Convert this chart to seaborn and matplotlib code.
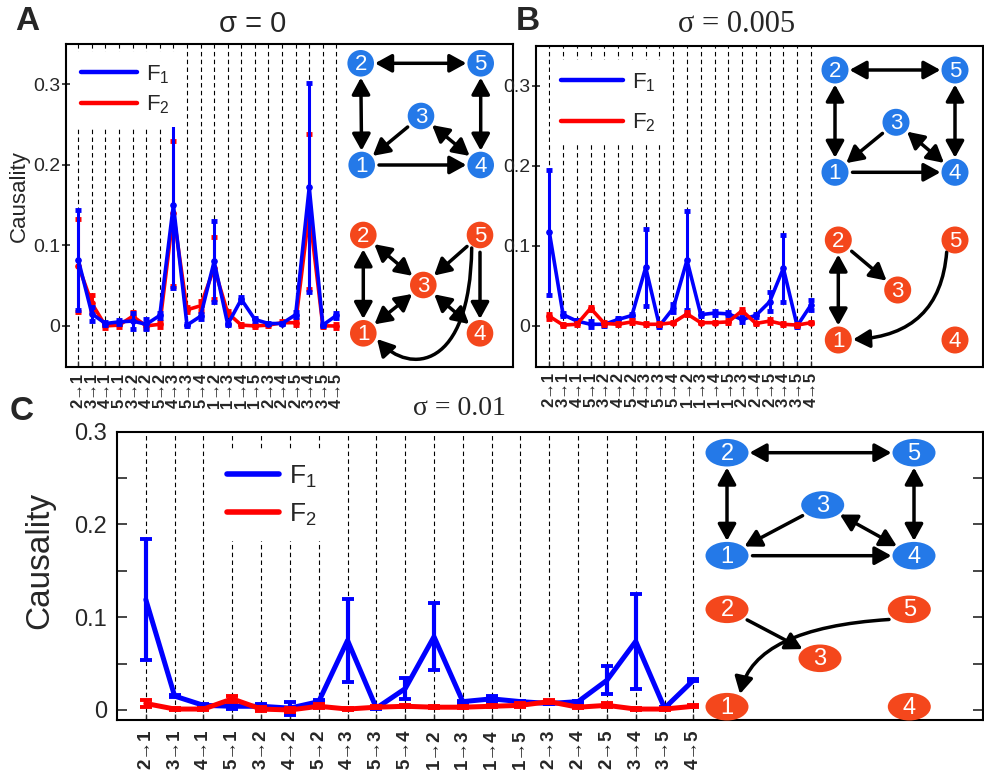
import numpy as np
import pandas as pd
import matplotlib
matplotlib.use("Agg")
import matplotlib.pyplot as plt
import seaborn as sns
from matplotlib.patches import Ellipse, FancyArrowPatch
from matplotlib.path import Path
from matplotlib.lines import Line2D

# ---------------- data ----------------
edges = ["2→1", "3→1", "4→1", "5→1", "3→2", "4→2", "5→2", "4→3", "5→3", "5→4",
         "1→2", "1→3", "1→4", "1→5", "2→3", "2→4", "2→5", "3→4", "3→5", "4→5"]

a_f1 = [0.082, 0.015, 0.003, 0.005, 0.006, 0.002, 0.013, 0.150, 0.001, 0.012,
        0.080, 0.002, 0.033, 0.008, 0.003, 0.003, 0.014, 0.172, 0.001, 0.013]
a_f1_err = [0.062, 0.009, 0.002, 0.002, 0.010, 0.006, 0.003, 0.103, 0.001, 0.003,
            0.050, 0.001, 0.003, 0.002, 0.001, 0.001, 0.003, 0.130, 0.001, 0.003]
a_f2 = [0.075, 0.028, 0.000, 0.001, 0.012, 0.000, 0.002, 0.140, 0.020, 0.025,
        0.072, 0.016, 0.001, 0.000, 0.001, 0.004, 0.004, 0.142, 0.000, 0.000]
a_f2_err = [0.058, 0.010, 0.002, 0.002, 0.005, 0.002, 0.003, 0.090, 0.003, 0.006,
            0.038, 0.003, 0.001, 0.001, 0.001, 0.002, 0.003, 0.096, 0.001, 0.002]

b_f1 = [0.117, 0.014, 0.006, 0.002, 0.002, 0.008, 0.013, 0.073, 0.000, 0.022,
        0.082, 0.014, 0.016, 0.015, 0.008, 0.013, 0.030, 0.072, 0.000, 0.026]
b_f1_err = [0.078, 0.002, 0.001, 0.004, 0.002, 0.002, 0.002, 0.048, 0.001, 0.005,
            0.062, 0.002, 0.002, 0.002, 0.003, 0.002, 0.012, 0.042, 0.001, 0.006]
b_f2 = [0.012, 0.001, 0.002, 0.022, 0.003, 0.002, 0.005, 0.002, 0.002, 0.004,
        0.015, 0.004, 0.004, 0.005, 0.019, 0.003, 0.006, 0.002, 0.001, 0.004]
b_f2_err = [0.003, 0.001, 0.001, 0.002, 0.002, 0.001, 0.002, 0.001, 0.001, 0.001,
            0.002, 0.001, 0.001, 0.002, 0.002, 0.001, 0.002, 0.001, 0.001, 0.001]

c_f1 = [0.119, 0.015, 0.005, 0.004, 0.004, 0.002, 0.009, 0.075, 0.002, 0.023,
        0.079, 0.009, 0.012, 0.009, 0.007, 0.009, 0.032, 0.074, 0.002, 0.032]
c_f1_err = [0.065, 0.001, 0.001, 0.003, 0.002, 0.007, 0.002, 0.045, 0.001, 0.011,
            0.036, 0.001, 0.003, 0.001, 0.001, 0.001, 0.015, 0.051, 0.001, 0.001]
c_f2 = [0.007, 0.001, 0.001, 0.012, 0.001, 0.000, 0.004, 0.001, 0.003, 0.004,
        0.003, 0.003, 0.004, 0.005, 0.009, 0.003, 0.005, 0.001, 0.001, 0.004]
c_f2_err = [0.004, 0.001, 0.001, 0.003, 0.002, 0.002, 0.002, 0.001, 0.001, 0.001,
            0.001, 0.001, 0.001, 0.002, 0.002, 0.001, 0.002, 0.001, 0.001, 0.001]

titles = ["σ = 0", "σ = 0.005", "σ = 0.01"]
series_labels = ["F$_\\mathregular{1}$", "F$_\\mathregular{2}$"]

# network edges: (from, to, bidirectional)
net_true = [(2, 5, True), (2, 1, True), (5, 4, True), (3, 1, False), (3, 4, True), (1, 4, False)]
net_a_red = [(2, 1, True), (2, 3, True), (5, 3, False), (5, 4, False), (3, 1, True), (3, 4, True)]
net_b_red = [(2, 1, True), (2, 3, False)]
net_c_red = [(2, 3, False)]

# ---------------- style ----------------
sns.set_style("ticks")
plt.rcParams["font.family"] = ["Liberation Sans", "DejaVu Sans"]
plt.rcParams["mathtext.fontset"] = "custom"
plt.rcParams["mathtext.rm"] = "Liberation Sans"
plt.rcParams["mathtext.it"] = "Liberation Sans:italic"

BLUE = "#0000ff"
RED = "#ff0000"
NODE_BLUE = "#2479e8"
NODE_RED = "#f4471c"

W, H = 984, 779
fig = plt.figure(figsize=(W / 100, H / 100), dpi=100)


def px_axes(l, t, r, b, **kw):
    return fig.add_axes([l / W, 1 - b / H, (r - l) / W, (b - t) / H], **kw)


def draw_panel(ax, f1, f1e, f2, f2e, lw, elw, capsize, capthick, ms, red_top):
    n = len(edges)
    x = np.arange(n)
    for xi in x:
        ax.axvline(xi, color="black", lw=0.8, dashes=(4, 3), zorder=0)
    df = pd.DataFrame({"pos": np.concatenate([x, x]),
                       "val": np.concatenate([f1, f2]),
                       "series": ["F1"] * n + ["F2"] * n})
    zb, zr = (3, 4) if red_top else (4, 3)
    for name, col, err, z in (("F1", BLUE, f1e, zb), ("F2", RED, f2e, zr)):
        sub = df[df.series == name]
        sns.lineplot(data=sub, x="pos", y="val", color=col, lw=lw, marker="o",
                     ms=ms, mec=col, mfc=col, ax=ax, zorder=z, legend=False)
        ax.errorbar(sub["pos"], sub["val"], yerr=err, fmt="none", ecolor=col,
                    elinewidth=elw, capsize=capsize, capthick=capthick, zorder=z)
    ax.set_xticks(x)
    ax.set_xlabel("")
    ax.set_ylabel("")
    for s in ax.spines.values():
        s.set_linewidth(1.5)
        s.set_color("black")


def legend(ax, lw, fs, hl, ls, anchor):
    handles = [Line2D([], [], color=BLUE, lw=lw), Line2D([], [], color=RED, lw=lw)]
    leg = ax.legend(handles, series_labels, loc="upper left", bbox_to_anchor=anchor,
                    frameon=True, facecolor="white", edgecolor="none", framealpha=1,
                    fancybox=False, handlelength=hl, handletextpad=0.4,
                    labelspacing=ls, fontsize=fs, borderaxespad=0, borderpad=0.5)
    leg.set_zorder(6)


# ---------------- Panels A and B ----------------
axA = px_axes(66, 44, 513, 367)
draw_panel(axA, a_f1, a_f1_err, a_f2, a_f2_err, lw=2.6, elw=2.2, capsize=2.2,
           capthick=3.5, ms=4, red_top=False)
axB = px_axes(535.7, 45.7, 983, 366.7)
draw_panel(axB, b_f1, b_f1_err, b_f2, b_f2_err, lw=2.6, elw=2.2, capsize=2.2,
           capthick=3.5, ms=4, red_top=True)
for ax, xl in ((axA, (-0.906, 32.0)), (axB, (-0.99, 31.5))):
    ax.set_xlim(*xl)
    ax.set_ylim(-0.051, 0.35)
    ax.set_yticks([0, 0.1, 0.2, 0.3])
    ax.set_yticklabels(["0", "0.1", "0.2", "0.3"])
    ax.set_xticklabels(edges, rotation=90, fontweight="bold")
    ax.tick_params(axis="y", direction="inout", length=6, width=1.2, labelsize=14, pad=1)
    ax.tick_params(axis="x", direction="in", length=4, width=1.0, labelsize=12, pad=4)
    ax.tick_params(right=False, top=False)

legend(axA, 3.2, 16, 2.5, 0.35, (0.009, 0.975))
legend(axB, 3.2, 16, 2.8, 0.8, (0.032, 0.955))

# ---------------- Panel C ----------------
axC = px_axes(117, 431.7, 983, 720)
draw_panel(axC, c_f1, c_f1_err, c_f2, c_f2_err, lw=3.6, elw=3.0, capsize=4.5,
           capthick=2.8, ms=0, red_top=True)
axC.set_xlim(-1, 29.05)
axC.set_ylim(-0.0108, 0.3)
axC.set_yticks([0, 0.1, 0.2, 0.3])
axC.set_yticklabels(["0", "0.1", "0.2", "0.3"])
axC.set_yticks([0.05, 0.15, 0.25], minor=True)
axC.set_xticklabels(edges, rotation=90, fontweight="bold")
axC.tick_params(axis="y", which="both", direction="in", length=7, width=1.2,
                labelsize=17, pad=7, right=True)
axC.tick_params(axis="x", direction="in", length=4, width=1.0, labelsize=13.5, pad=7)
legend(axC, 4.0, 19, 1.95, 0.45, (0.112, 0.935))


# ---------------- text ----------------
def ftext(x, y, s, **kw):
    fig.text(x / W, 1 - y / H, s, ha="center", va="center", **kw)


ftext(27, 22, "A", fontsize=24, fontweight="bold")
ftext(528, 22, "B", fontsize=24, fontweight="bold")
ftext(22, 412, "C", fontsize=24, fontweight="bold")
ftext(253, 24, titles[0], fontsize=21)
ftext(737, 24, titles[1], fontsize=22, family=["Liberation Serif", "DejaVu Serif"])
ftext(459, 408, titles[2], fontsize=20, family=["Liberation Serif", "DejaVu Serif"])
ftext(19, 196, "Causality", fontsize=16, rotation=90)
ftext(40, 560, "Causality", fontsize=24, rotation=90)

# ---------------- networks (overlay in pixel coords) ----------------
ov = fig.add_axes([0, 0, 1, 1], facecolor="none")
ov.set_xlim(0, W)
ov.set_ylim(H, 0)
ov.axis("off")


def bdist(rx, ry, u):
    return 1.0 / np.sqrt((u[0] / rx) ** 2 + (u[1] / ry) ** 2)


def draw_net(pos, edge_list, color, rx, ry, fs):
    for k, (x, y) in pos.items():
        ov.add_patch(Ellipse((x, y), 2 * rx, 2 * ry, facecolor=color, edgecolor="none", zorder=5))
        ov.text(x, y + 1, str(k), color="white", ha="center", va="center", fontsize=fs, zorder=6)
    for a, b, both in edge_list:
        p = np.array(pos[a], float)
        q = np.array(pos[b], float)
        u = (q - p) / np.linalg.norm(q - p)
        d = bdist(rx, ry, u)
        s = p + u * (d + (1 if both else 4))
        e = q - u * (d + 1)
        style = "<|-|>" if both else "-|>"
        ov.add_patch(FancyArrowPatch(s, e, arrowstyle=f"{style},head_length=1.0,head_width=0.55",
                                     mutation_scale=10, lw=2.5, color="black",
                                     shrinkA=0, shrinkB=0, zorder=4))


def curve(verts, codes):
    ov.add_patch(FancyArrowPatch(path=Path(verts, codes),
                                 arrowstyle="-|>,head_length=1.0,head_width=0.55",
                                 mutation_scale=10, lw=2.5, color="black", zorder=4))


posA_b = {1: (361.7, 165), 2: (360.7, 63.3), 3: (421, 116), 4: (480.7, 165), 5: (480.7, 63.3)}
posA_r = {1: (363.3, 333.3), 2: (363.3, 235), 3: (423.3, 285), 4: (480, 333.3), 5: (480, 235)}
posB_b = {1: (835, 172.3), 2: (835, 70), 3: (896, 122.3), 4: (955, 172.3), 5: (955, 70)}
posB_r = {1: (838.3, 340), 2: (838.3, 240), 3: (897.7, 290), 4: (955, 340), 5: (955, 240)}
posC_b = {1: (727, 555.7), 2: (727, 452.7), 3: (822.7, 505), 4: (914, 555.7), 5: (914, 452.7)}
posC_r = {1: (727, 706.7), 2: (727, 609.3), 3: (820, 658.3), 4: (909.3, 706.7), 5: (909.3, 609.3)}

draw_net(posA_b, net_true, NODE_BLUE, 13.3, 13.3, 16)
draw_net(posA_r, net_a_red, NODE_RED, 13.3, 13.3, 16)
draw_net(posB_b, net_true, NODE_BLUE, 13.5, 13.5, 16)
draw_net(posB_r, net_b_red, NODE_RED, 13.5, 13.5, 16)
draw_net(posC_b, net_true, NODE_BLUE, 21.5, 13.8, 17)
draw_net(posC_r, net_c_red, NODE_RED, 21.5, 13.8, 17)

curve([(471.7, 248), (470, 370), (410, 375), (377, 339)],
      [Path.MOVETO, Path.CURVE4, Path.CURVE4, Path.CURVE4])
curve([(946.7, 252), (940, 335), (853, 339.5)],
      [Path.MOVETO, Path.CURVE3, Path.CURVE3])
curve([(889, 619.5), (755, 628), (740, 694)],
      [Path.MOVETO, Path.CURVE3, Path.CURVE3])

fig.savefig("out.png", dpi=100)
